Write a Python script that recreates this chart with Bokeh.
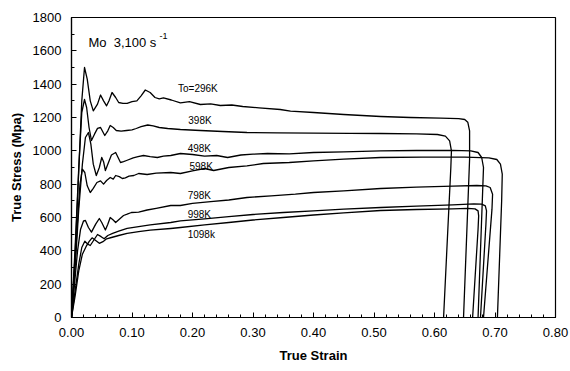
from bokeh.plotting import figure
from bokeh.models import Range1d, SingleIntervalTicker, NumeralTickFormatter, Label, ColumnDataSource
from bokeh.embed import file_html
from bokeh.resources import INLINE
from bokeh.core.properties import value

# True stress-strain curves for Mo at 3,100 1/s, initial temperatures 296K..1098K
strain_296 = [0, 0.006, 0.012, 0.017, 0.0215, 0.026, 0.031, 0.036, 0.043, 0.048, 0.053, 0.058, 0.062,
              0.067, 0.073, 0.078, 0.085, 0.092, 0.100, 0.108, 0.115, 0.122, 0.130, 0.138, 0.145, 0.152,
              0.165, 0.180, 0.195, 0.213, 0.230, 0.246, 0.265, 0.283, 0.310, 0.345, 0.362, 0.400, 0.450,
              0.511, 0.560, 0.610, 0.640, 0.650, 0.655, 0.658, 0.658, 0.648]
stress_296 = [0, 380, 880, 1300, 1500, 1430, 1300, 1240, 1280, 1335, 1300, 1270, 1300,
              1350, 1320, 1290, 1285, 1285, 1295, 1300, 1330, 1365, 1350, 1320, 1312, 1318,
              1305, 1288, 1295, 1278, 1282, 1272, 1275, 1266, 1258, 1248, 1238, 1230, 1218,
              1206, 1200, 1196, 1193, 1188, 1172, 1120, 950, 0]

strain_398 = [0, 0.006, 0.012, 0.017, 0.0215, 0.025, 0.029, 0.033, 0.038, 0.043, 0.048, 0.055, 0.060,
              0.064, 0.069, 0.074, 0.082, 0.091, 0.100, 0.107, 0.115, 0.126, 0.135, 0.145, 0.159, 0.180,
              0.213, 0.250, 0.290, 0.340, 0.400, 0.460, 0.511, 0.570, 0.605, 0.618, 0.625, 0.628, 0.627,
              0.615]
stress_398 = [0, 420, 900, 1230, 1308, 1260, 1140, 1062, 1100, 1135, 1140, 1092, 1120,
              1152, 1140, 1122, 1118, 1122, 1126, 1134, 1145, 1155, 1150, 1140, 1134, 1128,
              1122, 1116, 1110, 1108, 1106, 1105, 1104, 1102, 1098, 1088, 1060, 1000, 900,
              0]

strain_498 = [0, 0.006, 0.012, 0.018, 0.023, 0.028, 0.032, 0.036, 0.041, 0.046, 0.050, 0.053, 0.056,
              0.060, 0.066, 0.073, 0.077, 0.081, 0.086, 0.091, 0.102, 0.110, 0.119, 0.130, 0.142, 0.152,
              0.164, 0.180, 0.200, 0.220, 0.240, 0.258, 0.280, 0.300, 0.324, 0.360, 0.400, 0.450, 0.511,
              0.570, 0.630, 0.660, 0.672, 0.678, 0.681, 0.680, 0.672]
stress_498 = [0, 300, 650, 920, 1080, 1110, 1040, 920, 852, 900, 960, 935, 882,
              920, 975, 990, 960, 930, 935, 942, 958, 965, 972, 965, 960, 968,
              972, 984, 978, 968, 972, 960, 975, 980, 984, 982, 990, 994, 1000,
              1002, 1003, 1000, 990, 960, 900, 800, 0]

strain_598 = [0, 0.005, 0.010, 0.014, 0.018, 0.022, 0.026, 0.031, 0.036, 0.042, 0.048, 0.053, 0.058,
              0.064, 0.069, 0.073, 0.079, 0.084, 0.089, 0.095, 0.103, 0.111, 0.125, 0.140, 0.164, 0.180,
              0.200, 0.220, 0.235, 0.260, 0.290, 0.317, 0.360, 0.400, 0.450, 0.511, 0.580, 0.650, 0.690,
              0.703, 0.709, 0.712, 0.711, 0.704]
stress_598 = [0, 280, 580, 800, 890, 870, 790, 750, 775, 810, 820, 800, 822,
              840, 830, 852, 845, 834, 838, 848, 852, 864, 858, 866, 870, 864,
              880, 894, 882, 900, 910, 924, 930, 940, 950, 960, 962, 962, 958,
              948, 920, 860, 700, 0]

strain_798 = [0, 0.005, 0.010, 0.015, 0.020, 0.023, 0.028, 0.033, 0.040, 0.046, 0.050, 0.056, 0.060,
              0.064, 0.069, 0.073, 0.079, 0.086, 0.092, 0.099, 0.111, 0.125, 0.140, 0.164, 0.180, 0.200,
              0.230, 0.260, 0.290, 0.330, 0.370, 0.400, 0.450, 0.511, 0.570, 0.630, 0.670, 0.685, 0.692,
              0.696, 0.695, 0.681]
stress_798 = [0, 200, 400, 530, 580, 582, 540, 512, 560, 594, 570, 525, 560,
              600, 585, 570, 590, 612, 620, 630, 632, 645, 655, 672, 672, 685,
              695, 705, 720, 730, 740, 750, 760, 774, 782, 788, 792, 790, 780,
              740, 650, 0]

strain_998 = [0, 0.006, 0.012, 0.017, 0.022, 0.027, 0.031, 0.037, 0.043, 0.049, 0.054, 0.060, 0.068,
              0.078, 0.092, 0.111, 0.130, 0.164, 0.180, 0.220, 0.260, 0.300, 0.350, 0.400, 0.450, 0.511,
              0.570, 0.630, 0.665, 0.678, 0.684, 0.686, 0.685, 0.676]
stress_998 = [0, 160, 320, 420, 458, 440, 432, 465, 498, 485, 472, 492, 505,
              518, 535, 545, 556, 570, 580, 592, 605, 618, 630, 640, 650, 660,
              668, 676, 682, 680, 670, 640, 560, 0]

strain_1098 = [0, 0.006, 0.012, 0.018, 0.024, 0.029, 0.034, 0.040, 0.046, 0.052, 0.058, 0.066, 0.078,
               0.092, 0.111, 0.130, 0.164, 0.180, 0.220, 0.260, 0.300, 0.350, 0.400, 0.450, 0.511, 0.570,
               0.630, 0.655, 0.667, 0.672, 0.673, 0.672, 0.663]
stress_1098 = [0, 130, 280, 380, 425, 455, 478, 462, 445, 455, 472, 480, 492,
               505, 515, 524, 534, 540, 556, 570, 585, 600, 615, 628, 642, 648,
               652, 655, 652, 640, 610, 530, 0]

curve_labels = ["To=296K", "398K", "498K", "598K", "798K", "998K", "1098k"]
label_strain = [0.176, 0.193, 0.192, 0.195, 0.192, 0.192, 0.192]
label_stress = [1376, 1182, 1014, 906, 732, 618, 498]

x_ticks_step = 0.1
y_ticks_step = 200

FONT = "Liberation Sans"

p = figure(width=570, height=371, output_backend="svg", toolbar_location=None,
           x_range=Range1d(0, 0.8), y_range=Range1d(0, 1800),
           min_border_left=71, min_border_right=15, min_border_top=17, min_border_bottom=54)

curves = [(strain_296, stress_296), (strain_398, stress_398), (strain_498, stress_498),
          (strain_598, stress_598), (strain_798, stress_798), (strain_998, stress_998),
          (strain_1098, stress_1098)]
for xs, ys in curves:
    p.line(xs, ys, line_color="black", line_width=1.3, line_join="round")

src = ColumnDataSource(dict(x=label_strain, y=label_stress, t=curve_labels))
p.text(x="x", y="y", text="t", source=src, text_font=value(FONT), text_font_size="10px",
       text_baseline="middle", text_align="left", text_color="black")

# rate annotation; a no-break space keeps the double gap after "Mo"
p.add_layout(Label(x=0.028, y=1650, text="Mo\u00a0\u00a03,100 s", text_font=FONT, text_font_size="13px",
                   text_baseline="alphabetic", text_color="black"))
p.add_layout(Label(x=0.1455, y=1692, text="-1", text_font=FONT, text_font_size="9px",
                   text_baseline="alphabetic", text_color="black"))

p.grid.visible = False
p.background_fill_color = "white"
p.border_fill_color = "white"
p.outline_line_color = "black"
p.outline_line_width = 1.2

p.xaxis.ticker = SingleIntervalTicker(interval=x_ticks_step, num_minor_ticks=5)
p.yaxis.ticker = SingleIntervalTicker(interval=y_ticks_step, num_minor_ticks=2)
p.xaxis.formatter = NumeralTickFormatter(format="0.00")
p.yaxis.formatter = NumeralTickFormatter(format="0")

for ax in (p.xaxis, p.yaxis):
    ax.axis_line_color = "black"
    ax.axis_line_width = 1.2
    ax.major_tick_in = 5
    ax.major_tick_out = 0
    ax.minor_tick_in = 3
    ax.minor_tick_out = 0
    ax.major_tick_line_color = "black"
    ax.minor_tick_line_color = "black"
    ax.major_label_text_font = FONT
    ax.major_label_text_font_size = "13px"
    ax.major_label_text_color = "black"
    ax.axis_label_text_font = FONT
    ax.axis_label_text_font_size = "13px"
    ax.axis_label_text_font_style = "bold"
    ax.axis_label_text_color = "black"

p.xaxis.axis_label = "True Strain"
p.yaxis.axis_label = "True Stress (Mpa)"
p.xaxis.major_label_standoff = 10
p.yaxis.major_label_standoff = 10
p.xaxis.axis_label_standoff = 8
p.yaxis.axis_label_standoff = 6

open("out.html", "w").write(file_html(p, INLINE))
